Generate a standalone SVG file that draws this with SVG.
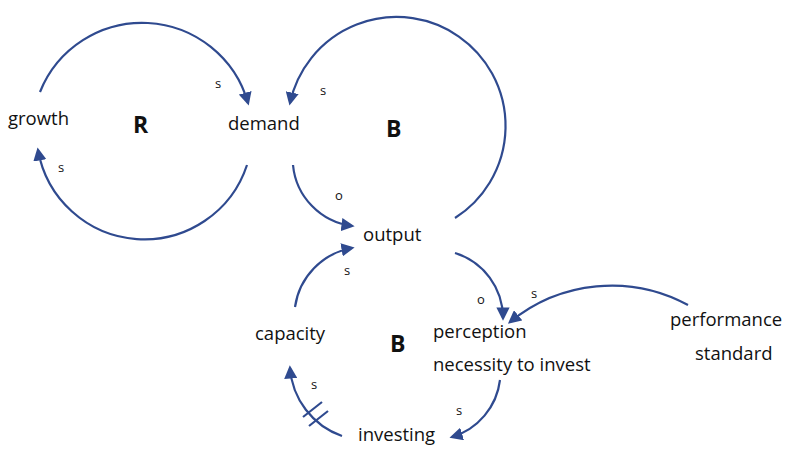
<svg xmlns="http://www.w3.org/2000/svg" width="800" height="467" viewBox="0 0 800 467">
<style>
text{font-family:"Open Sans","Liberation Sans",sans-serif;fill:#111}
.n{font-size:18.5px}
.b{font-size:23px;font-weight:bold}
.l{font-size:13px}
.c{fill:none;stroke:#2F4A8F;stroke-width:2.2;marker-end:url(#ah)}
</style>
<defs>
<marker id="ah" viewBox="0 0 10 10" refX="8" refY="5" markerWidth="6" markerHeight="6" orient="auto" markerUnits="strokeWidth">
<path d="M0,0 L10,5 L0,10 z" fill="#2F4A8F"/>
</marker>
</defs>
<rect width="800" height="467" fill="#fff"/>
<g id="connectors">
<path class="c" d="M40,92 A110,110 0 0 1 248,103"/>
<path class="c" d="M247,165 A108,108 0 0 1 38,150"/>
<path class="c" d="M455,218 A109,109 0 1 0 290,103"/>
<path class="c" d="M293,165 A68,68 0 0 0 352,226"/>
<path class="c" d="M455,253 A68,68 0 0 1 503,318"/>
<path class="c" d="M688,305 A160,160 0 0 0 510,322"/>
<path class="c" d="M500,380 A68,68 0 0 1 452,437"/>
<path class="c" d="M342,436 A78,78 0 0 1 290,368"/>
<path class="c" d="M295,307 A70,70 0 0 1 352,248"/>
<path d="M303,417 L322,402 M309,426 L328,411" stroke="#2F4A8F" stroke-width="2.2"/>
</g>
<g id="growth"><text class="n" x="8" y="125">growth</text></g>
<g id="R"><text class="b" x="133" y="133">R</text></g>
<g id="demand"><text class="n" x="228" y="130">demand</text></g>
<g id="B1"><text class="b" x="386" y="137">B</text></g>
<g id="output"><text class="n" x="363" y="241">output</text></g>
<g id="capacity"><text class="n" x="255" y="340">capacity</text></g>
<g id="B2"><text class="b" x="390" y="352">B</text></g>
<g id="perception"><text class="n" x="433" y="338">perception</text><text class="n" x="433" y="371">necessity to invest</text></g>
<g id="performance"><text class="n" x="670" y="326">performance</text><text class="n" x="695" y="360">standard</text></g>
<g id="investing"><text class="n" x="358" y="441">investing</text></g>
<g id="labels">
<text class="l" x="215" y="88">s</text>
<text class="l" x="320" y="95">s</text>
<text class="l" x="58" y="172">s</text>
<text class="l" x="335" y="200">o</text>
<text class="l" x="344" y="275">s</text>
<text class="l" x="477" y="304">o</text>
<text class="l" x="531" y="298">s</text>
<text class="l" x="311" y="389">s</text>
<text class="l" x="456" y="415">s</text>
</g>
</svg>
